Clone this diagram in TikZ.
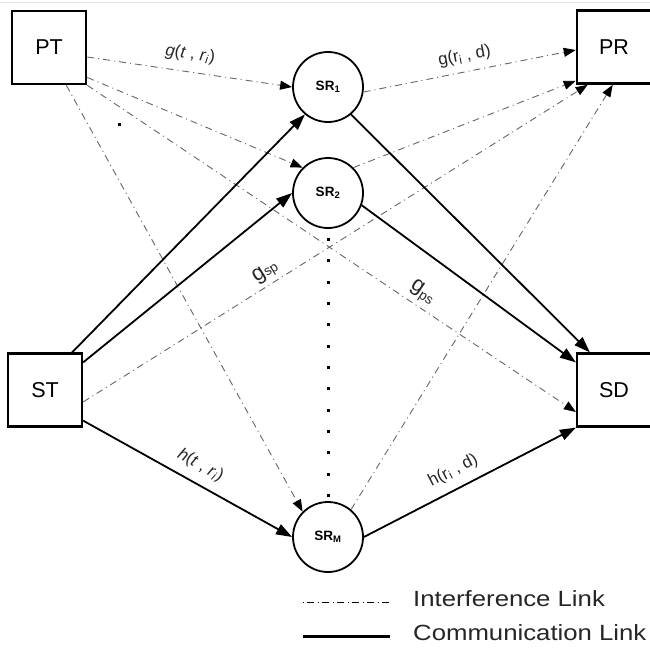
\documentclass[tikz,border=0pt]{standalone}
\usepackage{fontspec}
\setmainfont{Liberation Sans}
\newfontfamily\legendfont[FakeStretch=1.17]{Liberation Sans}
\usetikzlibrary{arrows.meta}
\begin{document}
\begin{tikzpicture}[x=1pt,y=-1pt,
  box/.style={draw, line width=2.6pt, minimum width=74pt, minimum height=73pt, inner sep=0pt, font=\fontsize{21.5}{24}\selectfont},
  relay/.style={draw, circle, line width=1.8pt, minimum size=70pt, inner sep=0pt, font=\bfseries\fontsize{13.5}{15}\selectfont},
  comm/.style={line width=1.8pt, -{Triangle[length=16pt,width=11pt]}},
  intf/.style={draw=black!60, line width=0.9pt, dash pattern=on 7pt off 4pt on 1pt off 4pt, -{Triangle[length=12pt,width=9pt,color=black,fill=black]}},
  lbl/.style={font=\fontsize{17}{19}\selectfont, text=black!85, inner sep=1pt},
  legtext/.style={anchor=west, font=\legendfont\fontsize{22}{24}\selectfont, text=black!85, inner sep=0pt}
]
\useasboundingbox (0,0) rectangle (650,653);
\draw[black!10, line width=1pt] (0,2) -- (650,2);

% nodes
\node[box] (PT) at (49,47.5) {PT};
\node[box] (PR) at (614,47) {PR};
\node[box, line width=2.2pt] (ST) at (45,390) {ST};
\node[box, line width=2.2pt] (SD) at (614,390) {SD};
\node[relay] (SR1) at (328,87) {SR\textsubscript{1}};
\node[relay] (SR2) at (328,193) {SR\textsubscript{2}};
\node[relay] (SRM) at (328,537) {SR\textsubscript{M}};

% interference links
\draw[intf] ([yshift=-9.5pt]PT.east) -- node[lbl, sloped, above=8pt, pos=0.49] {\textit{g}(\textit{t} , \textit{r}\textsubscript{\textit{i}})} (SR1.180);
\draw[intf] ([yshift=-30pt]PT.east) -- (SR2.135);
\draw[intf] (PT.south east) -- node[sloped, above=3pt, pos=0.67, inner sep=1pt, text=black!85] {\fontsize{22}{22}\selectfont g\fontsize{13.5}{14}\selectfont\raisebox{-4pt}{ps}} ([yshift=-22pt]SD.west);
\draw[intf] ([xshift=-21pt]PT.south east) -- (SRM.135);
\draw[intf] (SR1.-8) -- node[lbl, sloped, above=6pt, pos=0.49] {g(r\textsubscript{i} , d)} ([yshift=-3pt]PR.west);
\draw[intf] (SR2.45) -- ([yshift=4pt]PR.south west);
\draw[intf] ([yshift=-12pt]ST.east) -- node[sloped, above=3pt, pos=0.375, inner sep=1pt, text=black!85] {\fontsize{22}{22}\selectfont g\fontsize{13.5}{14}\selectfont\raisebox{-1pt}{sp}} ([xshift=12pt]PR.south west);
\draw[intf] (SRM.50) -- ([xshift=37pt]PR.south west);

% communication links
\draw[comm] ([xshift=-11pt]ST.north east) -- (SR1.230);
\draw[comm] ([yshift=-10pt]ST.north east) -- (SR2.180);
\draw[comm] ([yshift=7pt]ST.south east) -- node[lbl, sloped, above=8pt, pos=0.52] {\textit{h}(\textit{t} , \textit{r}\textsubscript{\textit{i}})} (SRM.180);
\draw[comm] (SR1.-50) -- ([xshift=14pt]SD.north west);
\draw[comm] (SR2.-20) -- ([yshift=-10pt]SD.north west);
\draw[comm] (SRM.0) -- node[lbl, sloped, above=8pt, pos=0.46] {h(r\textsubscript{i} , d)} (SD.south west);

% dots
\fill (117.5,122.5) rectangle +(3,3);
\foreach \k in {0,...,12} \fill (326.5,{238+21.33*\k}) rectangle +(3,3);

% legend
\coordinate (l1a) at (303,602);
\coordinate (l1b) at (390,602);
\coordinate (l2a) at (303,636);
\coordinate (l2b) at (390,636);
\draw[black, line width=1pt, dash pattern=on 1pt off 3pt on 7pt off 4pt] (l1a) -- (l1b);
\draw[black, line width=3pt] (l2a) -- (l2b);
\node[legtext] (leg1) at (413,599) {Interference Link};
\node[legtext] (leg2) at (413,633) {Communication Link};
\end{tikzpicture}
\end{document}
